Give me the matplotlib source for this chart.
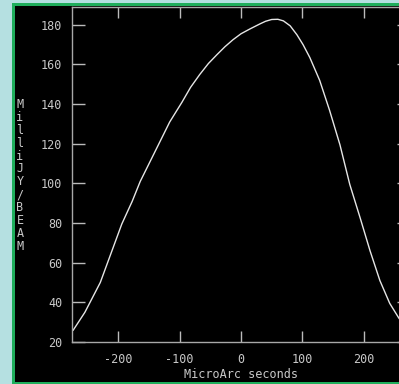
import matplotlib
matplotlib.use("Agg")
import matplotlib.pyplot as plt
from matplotlib.patches import Rectangle

plt.rcParams["axes.unicode_minus"] = False

# Data
x_arcsec = [-273, -254, -229, -210, -194, -177, -164, -148, -132, -116, -96, -82, -67,
            -53, -39, -26, -13, 0, 15, 31, 40, 50, 60, 69, 80, 91, 101, 112, 128, 144,
            161, 177, 194, 210, 226, 242, 257, 275]
flux_mjy = [26, 35, 50, 66, 79.5, 91, 101, 111, 121, 131, 141, 148.5, 155,
            160.5, 165, 169, 172.5, 175.5, 178, 180.5, 181.8, 182.7, 182.8, 182, 179.5,
            175, 170, 163.5, 152, 137, 119.5, 99.5, 82.5, 66, 51, 39.5, 32, 25]
x_ticks = [-200, -100, 0, 100, 200]
y_ticks = [20, 40, 60, 80, 100, 120, 140, 160, 180]
x_label = "MicroArc seconds"
y_label = "MilliJY/BEAM"

W, H = 399, 384
fig = plt.figure(figsize=(W / 100, H / 100), dpi=100, facecolor="#b5e0e1")

# green frame and black panel
fig.patches.append(Rectangle((12 / W, 0), (W - 12) / W, (H - 3) / H,
                             transform=fig.transFigure, facecolor="#1fae5c",
                             edgecolor="none", zorder=-2))
fig.patches.append(Rectangle((14.5 / W, 2 / H), (W - 14.5) / W, (H - 8) / H,
                             transform=fig.transFigure, facecolor="black",
                             edgecolor="none", zorder=-1))

left, right, top, bottom = 72, 410, 7, 342
ax = fig.add_axes([left / W, (H - bottom) / H, (right - left) / W, (bottom - top) / H])
ax.set_zorder(2)
ax.set_facecolor("black")
ax.plot(x_arcsec, flux_mjy, color="#e6e6e6", lw=1.0)
ax.set_xlim(-275, 275)
ax.set_ylim(20, 189)

ax.set_xticks(x_ticks)
ax.set_yticks(y_ticks)
mono = "DejaVu Sans Mono"
tc = "#c8c8c8"
ax.tick_params(axis="both", direction="in", colors="#bbbbbb", labelcolor=tc,
               labelsize=8.5, width=1.0, top=True, right=True)
ax.tick_params(axis="x", length=8, pad=8)
ax.tick_params(axis="y", length=9.3, pad=7)
for lab in ax.get_xticklabels() + ax.get_yticklabels():
    lab.set_family(mono)
for s in ax.spines.values():
    s.set_color("#a8a8a8")
    s.set_linewidth(1.0)

fig.text(241 / W, 1 - 375 / H, x_label, color=tc, family=mono, fontsize=8.5,
         ha="center", va="center", zorder=3)
fig.text(20 / W, 1 - 98 / H, "\n".join(y_label), color=tc, family=mono,
         fontsize=8.5, ha="center", va="top", linespacing=0.99, zorder=3)

fig.savefig("out.png", dpi=100, facecolor=fig.get_facecolor())
